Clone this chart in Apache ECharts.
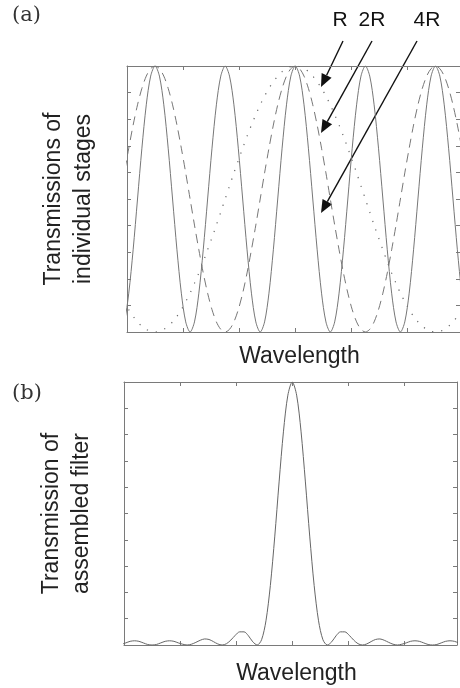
<!DOCTYPE html>
<html>
<head>
<meta charset="utf-8">
<script src="https://cdn.jsdelivr.net/npm/echarts@6/dist/echarts.min.js"></script>
<style>
html,body{margin:0;padding:0;background:#fff;}
#chart{width:460px;height:688px;}
</style>
</head>
<body>
<div id="chart"></div>
<script>
// Wavelength sample positions (arbitrary units, 4R period = 2)
const wavelength = [-5,-4.875,-4.75,-4.625,-4.5,-4.375,-4.25,-4.125,-4,-3.875,-3.75,-3.625,-3.5,-3.375,-3.25,-3.125,-3,-2.875,-2.75,-2.625,-2.5,-2.375,-2.25,-2.125,-2,-1.875,-1.75,-1.625,-1.5,-1.375,-1.25,-1.125,-1,-0.875,-0.75,-0.625,-0.5,-0.375,-0.25,-0.125,0,0.125,0.25,0.375,0.5,0.625,0.75,0.875,1,1.125,1.25,1.375,1.5,1.625,1.75,1.875,2,2.125,2.25,2.375,2.5,2.625,2.75,2.875,3,3.125,3.25,3.375,3.5,3.625,3.75,3.875,4,4.125,4.25,4.375,4.5,4.625,4.75,4.875,5];

// Stage of thickness R (dotted)
const stageR = [.146,.114,.084,.059,.038,.022,.010,.002,0,.002,.010,.022,.038,.059,.084,.114,.146,.183,.222,.264,.309,.355,.402,.451,.5,.549,.598,.645,.691,.736,.778,.817,.854,.887,.916,.941,.962,.979,.990,.998,
1,
.998,.990,.979,.962,.941,.916,.887,.854,.817,.778,.736,.691,.645,.598,.549,.5,.451,.402,.355,.309,.264,.222,.183,.146,.114,.084,.059,.038,.022,.010,.002,0,.002,.010,.022,.038,.059,.084,.114,.146];

// Stage of thickness 2R (dashed)
const stage2R = [.5,.598,.691,.778,.854,.916,.962,.990,1,.990,.962,.916,.854,.778,.691,.598,.5,.402,.309,.222,.146,.084,.038,.010,0,.010,.038,.084,.146,.222,.309,.402,.5,.598,.691,.778,.854,.916,.962,.990,
1,
.990,.962,.916,.854,.778,.691,.598,.5,.402,.309,.222,.146,.084,.038,.010,0,.010,.038,.084,.146,.222,.309,.402,.5,.598,.691,.778,.854,.916,.962,.990,1,.990,.962,.916,.854,.778,.691,.598,.5];

// Stage of thickness 4R (solid)
const stage4R = [0,.038,.146,.309,.5,.691,.854,.962,1,.962,.854,.691,.5,.309,.146,.038,0,.038,.146,.309,.5,.691,.854,.962,1,.962,.854,.691,.5,.309,.146,.038,0,.038,.146,.309,.5,.691,.854,.962,
1,
.962,.854,.691,.5,.309,.146,.038,0,.038,.146,.309,.5,.691,.854,.962,1,.962,.854,.691,.5,.309,.146,.038,0,.038,.146,.309,.5,.691,.854,.962,1,.962,.854,.691,.5,.309,.146,.038,0];

// Assembled filter transmission
const assembled = [0,.003,.008,.014,.016,.014,.008,.002,0,.002,.008,.014,.016,.014,.008,.003,0,.003,.010,.018,.023,.021,.013,.004,0,.005,.019,.037,.050,.050,.035,.012,0,.020,.092,.226,.411,.620,.813,.950,
1,
.950,.813,.620,.411,.226,.092,.020,0,.012,.035,.050,.050,.037,.019,.005,0,.004,.013,.021,.023,.018,.010,.003,0,.003,.008,.014,.016,.014,.008,.002,0,.002,.008,.014,.016,.014,.008,.003,0];

const stageLabels = ['R', '2R', '4R'];
const xTitle = 'Wavelength';
const yTitleA = 'Transmissions of\nindividual stages';
const yTitleB = 'Transmission of\nassembled filter';

const pairs = (xs, ys) => xs.map((x, i) => [x, ys[i]]);

const frameColor = '#7a7a7a';
const curveColor = '#777';
const titleStyle = {fontFamily: 'Liberation Sans', fontSize: 23, color: '#222'};

function xAx(grid, pos, withName, gap) {
  const a = {
    gridIndex: grid, type: 'value', position: pos, min: -4.8, max: 4.7, interval: 1.6,
    axisLine: {show: true, onZero: false, lineStyle: {color: frameColor, width: 1}},
    axisTick: {show: true, inside: true, length: 4, lineStyle: {color: frameColor}},
    axisLabel: {show: false}, splitLine: {show: false}
  };
  if (withName) {
    a.name = xTitle; a.nameLocation = 'middle'; a.nameGap = gap;
    a.nameTextStyle = Object.assign({lineHeight: 26, padding: [0, 0, 0, 12]}, titleStyle);
  }
  return a;
}
function yAx(grid, pos, name, gap) {
  const a = {
    gridIndex: grid, type: 'value', position: pos, min: 0, max: 1, interval: 0.1,
    axisLine: {show: true, onZero: false, lineStyle: {color: frameColor, width: 1}},
    axisTick: {show: true, inside: true, length: 4, lineStyle: {color: frameColor}},
    axisLabel: {show: false}, splitLine: {show: false}
  };
  if (name) {
    a.name = name; a.nameLocation = 'middle'; a.nameGap = gap; a.nameRotate = 90;
    a.nameTextStyle = Object.assign({lineHeight: 30}, titleStyle);
  }
  return a;
}

// arrow annotations (pixel layout): [startX, startY, tipX, tipY]
const arrowLayout = [
  [343, 41, 321, 87],
  [372, 41, 321, 133],
  [417, 41, 321, 213]
];
function arrowGraphics() {
  const g = [];
  arrowLayout.forEach(([x1, y1, x2, y2]) => {
    const dx = x2 - x1, dy = y2 - y1, L = Math.hypot(dx, dy);
    const ux = dx / L, uy = dy / L, hl = 13, hw = 5.5;
    const bx = x2 - ux * hl, by = y2 - uy * hl;
    g.push({type: 'line', shape: {x1, y1, x2: bx, y2: by}, style: {stroke: '#111', lineWidth: 1.4}, silent: true});
    g.push({type: 'polygon', shape: {points: [[x2, y2], [bx - uy * hw, by + ux * hw], [bx + uy * hw, by - ux * hw]]},
      style: {fill: '#111'}, silent: true});
  });
  return g;
}

const chart = echarts.init(document.getElementById('chart'), null, {renderer: 'canvas'});
chart.setOption({
  animation: false,
  backgroundColor: '#fff',
  grid: [
    {left: 127, top: 66, width: 333, height: 266},
    {left: 124, top: 382, width: 333, height: 266}
  ],
  xAxis: [xAx(0, 'bottom', true, 12), xAx(0, 'top', false), xAx(1, 'bottom', true, 16), xAx(1, 'top', false)],
  yAxis: [yAx(0, 'left', yTitleA, 28), yAx(0, 'right'), yAx(1, 'left', yTitleB, 27), yAx(1, 'right')],
  series: [
    {name: stageLabels[0], type: 'line', xAxisIndex: 0, yAxisIndex: 0, data: pairs(wavelength, stageR),
      showSymbol: false, smooth: 0.3, lineStyle: {color: '#666', width: 1.2, type: [1.2, 8]}},
    {name: stageLabels[1], type: 'line', xAxisIndex: 0, yAxisIndex: 0, data: pairs(wavelength, stage2R),
      showSymbol: false, smooth: 0.3, lineStyle: {color: curveColor, width: 1, type: [9, 6]}},
    {name: stageLabels[2], type: 'line', xAxisIndex: 0, yAxisIndex: 0, data: pairs(wavelength, stage4R),
      showSymbol: false, smooth: 0.3, lineStyle: {color: curveColor, width: 1}},
    {name: 'Assembled', type: 'line', xAxisIndex: 2, yAxisIndex: 2, data: pairs(wavelength, assembled),
      showSymbol: false, smooth: 0.3, lineStyle: {color: '#666', width: 1}}
  ],
  graphic: [
    {type: 'text', left: 12, top: 5, style: {text: '(a)', font: '21px "DejaVu Serif"', fill: '#333'}},
    {type: 'text', left: 12, top: 383, style: {text: '(b)', font: '21px "DejaVu Serif"', fill: '#333'}},
    {type: 'text', x: 340, y: 20, style: {text: stageLabels[0], font: '21px "Liberation Sans"', fill: '#111', align: 'center', verticalAlign: 'middle'}},
    {type: 'text', x: 372, y: 20, style: {text: stageLabels[1], font: '21px "Liberation Sans"', fill: '#111', align: 'center', verticalAlign: 'middle'}},
    {type: 'text', x: 427, y: 20, style: {text: stageLabels[2], font: '21px "Liberation Sans"', fill: '#111', align: 'center', verticalAlign: 'middle'}}
  ].concat(arrowGraphics())
});
</script>
</body>
</html>
